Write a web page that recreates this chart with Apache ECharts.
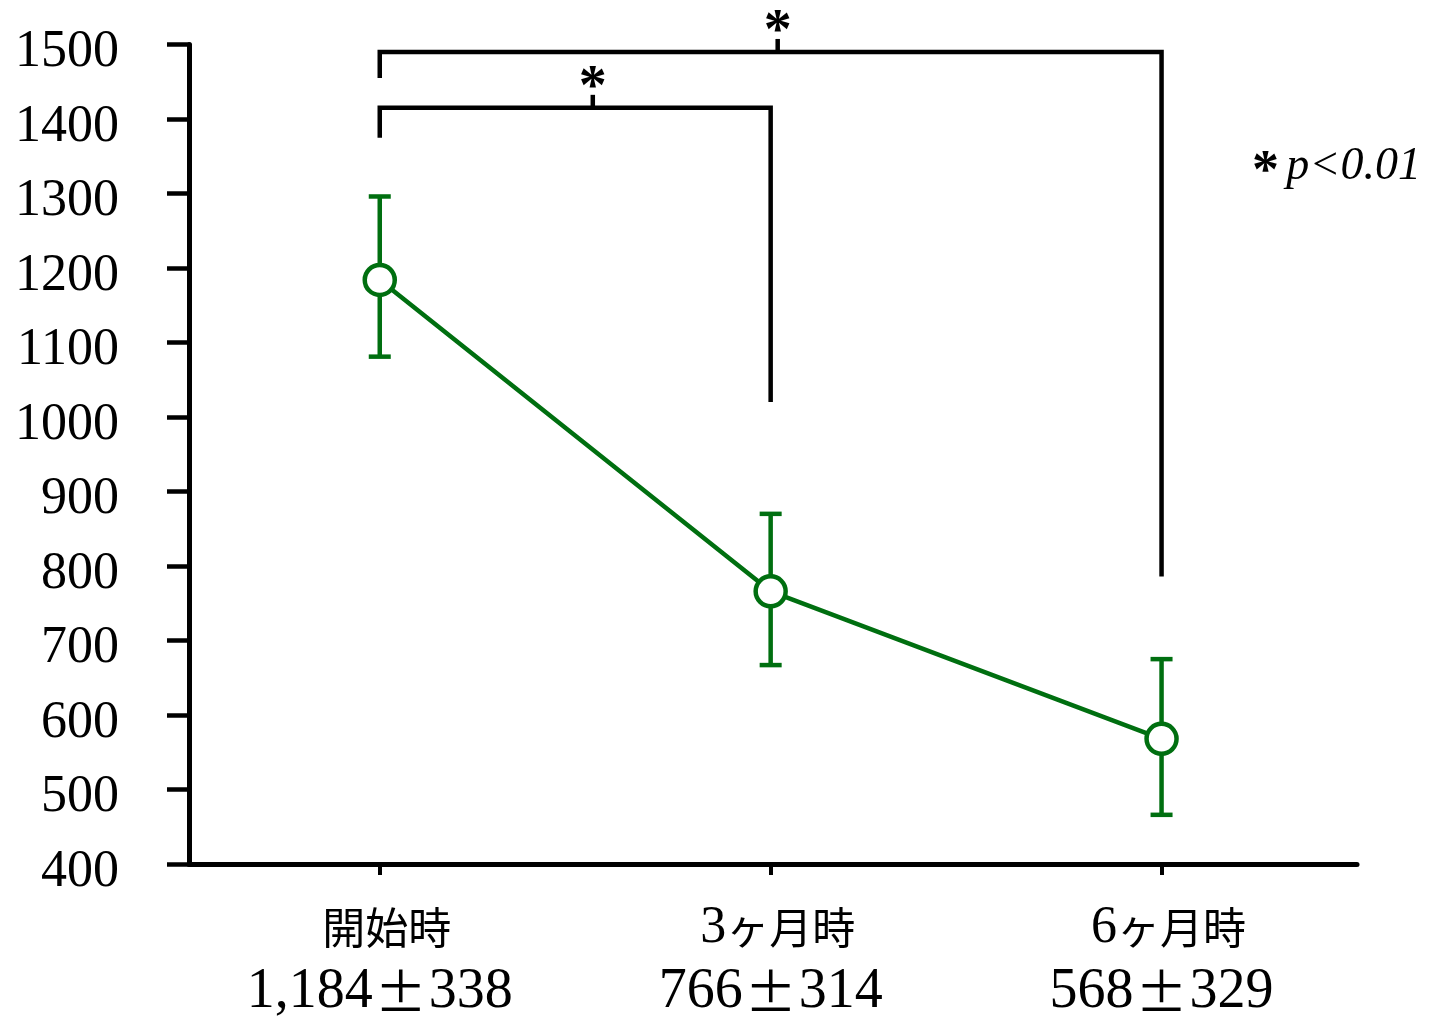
<!DOCTYPE html>
<html>
<head>
<meta charset="utf-8">
<script src="https://cdn.jsdelivr.net/npm/echarts@6/dist/echarts.min.js"></script>
<style>
  html, body { margin: 0; padding: 0; background: #fff; }
  #chart { width: 1430px; height: 1020px; }
</style>
</head>
<body>
<div id="chart"></div>
<script>
// Time points and summary values (mean ± SD printed under each point)
const categories = ['開始時', '3ヶ月時', '6ヶ月時'];
const means = [1184, 766, 568];
const sds = [338, 314, 329];
// Error bar extents drawn around each mean
const errLow = [1081, 667, 466];
const errHigh = [1296, 870, 675];
// Y axis range and step
const yMin = 400;
const yMax = 1500;
const yStep = 100;
// Significance brackets: [from index, to index, bar level, left leg end, right leg end, star position]
const brackets = [
  [0, 1, 1415, 1375, 1020, 0.545],
  [0, 2, 1490, 1455, 786, 1.018]
];
const noteText = 'p<0.01';

const GREEN = '#006f10';
const SERIF = "'Liberation Serif', 'DejaVu Serif', serif";
const CJK = "'Noto Sans CJK JP', sans-serif";

const chart = echarts.init(document.getElementById('chart'), null, { renderer: 'canvas' });

const pointData = means.map((m, i) => [i, m]);
const errData = means.map((m, i) => [i, errLow[i], errHigh[i]]);

// Category name with its digits set in the serif face
function catLabel(name) {
  return '{a|' + name.replace(/(\d+)/g, '}{n|$1}{a|') + '}';
}

const option = {
  animation: false,
  backgroundColor: '#fff',
  grid: { left: 189, right: 73, top: 44.5, bottom: 152.5, containLabel: false },
  xAxis: {
    type: 'value',
    min: -0.488,
    max: 2.5,
    splitLine: { show: false },
    axisLine: { show: true, onZero: false, lineStyle: { color: '#000', width: 5 } },
    axisTick: {
      show: true, customValues: [0, 1, 2], length: 11, inside: false,
      lineStyle: { color: '#000', width: 4 }
    },
    axisLabel: {
      show: true,
      customValues: [0, 1, 2],
      margin: 33,
      formatter: function (v) {
        const i = Math.round(v);
        return '{p|}' + catLabel(categories[i]) + '\n{b|' + means[i].toLocaleString('en-US') +
          '}{pm|±}{b|' + sds[i] + '}';
      },
      rich: {
        p: { width: 14, lineHeight: 62 },
        a: { fontFamily: CJK, fontSize: 43, lineHeight: 62, color: '#000' },
        n: { fontFamily: SERIF, fontSize: 52, lineHeight: 62, color: '#000' },
        b: { fontFamily: SERIF, fontSize: 56, lineHeight: 66, color: '#000' },
        pm: { fontFamily: CJK, fontSize: 52, lineHeight: 66, color: '#000', padding: [0, 2, 0, 2] }
      }
    }
  },
  yAxis: {
    type: 'value',
    min: yMin,
    max: yMax,
    interval: yStep,
    splitLine: { show: false },
    axisLine: { show: true, onZero: false, lineStyle: { color: '#000', width: 5 } },
    axisTick: { show: true, length: 22, inside: false, lineStyle: { color: '#000', width: 4.5 } },
    axisLabel: {
      margin: 70,
      formatter: function (v) { return '{v|' + v + '}'; },
      rich: {
        v: { fontFamily: SERIF, fontSize: 52, color: '#000', padding: [16, 0, 0, 0] }
      }
    }
  },
  graphic: [{
    type: 'text',
    left: 1252,
    top: 144,
    style: {
      text: '{s|*} {p|' + noteText + '}',
      rich: {
        s: { fontFamily: SERIF, fontSize: 54, fontWeight: 'bold', fill: '#000', padding: [12, 4, 0, 0] },
        p: { fontFamily: SERIF, fontSize: 46, fontStyle: 'italic', fill: '#000' }
      }
    }
  }],
  series: [
    {
      // Vertical error bars with caps
      type: 'custom',
      z: 2,
      clip: false,
      data: errData,
      renderItem: function (params, api) {
        const x = api.value(0);
        const lo = api.coord([x, api.value(1)]);
        const hi = api.coord([x, api.value(2)]);
        const cap = 11;
        const style = { stroke: GREEN, lineWidth: 4.5 };
        return {
          type: 'group',
          children: [
            { type: 'line', shape: { x1: lo[0], y1: lo[1], x2: hi[0], y2: hi[1] }, style: style },
            { type: 'line', shape: { x1: hi[0] - cap, y1: hi[1], x2: hi[0] + cap, y2: hi[1] }, style: style },
            { type: 'line', shape: { x1: lo[0] - cap, y1: lo[1], x2: lo[0] + cap, y2: lo[1] }, style: style }
          ]
        };
      }
    },
    {
      // Mean line with open circles
      type: 'line',
      z: 3,
      data: pointData,
      symbol: 'circle',
      symbolSize: 30,
      lineStyle: { color: GREEN, width: 4.5 },
      itemStyle: { color: '#fff', borderColor: GREEN, borderWidth: 4.5 }
    },
    {
      // Significance brackets with stars
      type: 'custom',
      z: 4,
      clip: false,
      data: brackets,
      renderItem: function (params, api) {
        const from = api.value(0), to = api.value(1);
        const bar = api.value(2);
        const l = api.coord([from, api.value(3)]);
        const p0 = api.coord([from, bar]);
        const p1 = api.coord([to, bar]);
        const r = api.coord([to, api.value(4)]);
        const s = api.coord([api.value(5), bar]);
        const style = { stroke: '#000', lineWidth: 4.5, fill: null, lineJoin: 'miter', lineCap: 'butt' };
        return {
          type: 'group',
          children: [
            { type: 'polyline', shape: { points: [l, p0, p1, r] }, style: style },
            { type: 'line', shape: { x1: s[0], y1: s[1], x2: s[0], y2: s[1] - 13 }, style: style },
            {
              type: 'text',
              x: s[0], y: s[1] - 18,
              style: {
                text: '*', fontFamily: SERIF, fontSize: 56, fontWeight: 'bold', fill: '#000',
                align: 'center', verticalAlign: 'middle'
              }
            }
          ]
        };
      }
    }
  ]
};

chart.setOption(option);
</script>
</body>
</html>
